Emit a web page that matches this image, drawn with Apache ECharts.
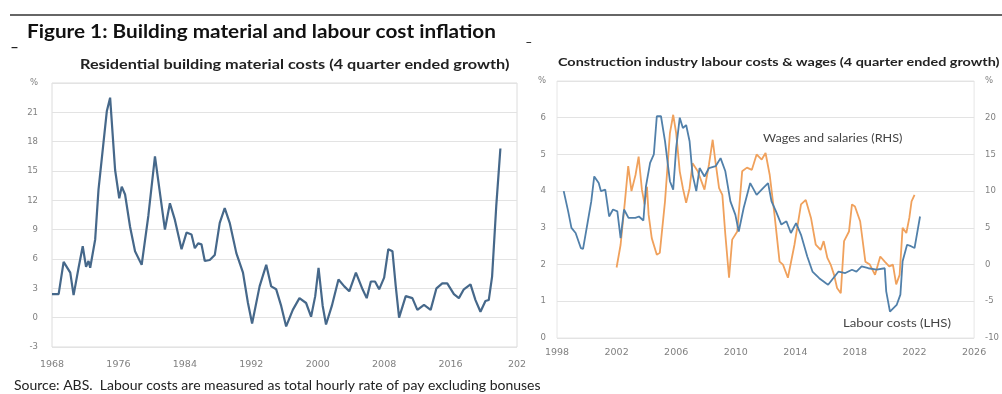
<!DOCTYPE html>
<html><head><meta charset="utf-8">
<script src="https://cdn.jsdelivr.net/npm/echarts@6/dist/echarts.min.js"></script>
<style>html,body{margin:0;padding:0;background:#fff}#c{width:1002px;height:394px}</style>
</head><body><div id="c"></div>
<script>
// Residential building material costs (4 quarter ended growth), %
const materialYears = [1968.0,1968.8,1969.4,1970.2,1970.6,1971.2,1971.7,1972.1,1972.4,1972.6,1973.2,1973.6,1974.2,1974.6,1975.0,1975.6,1976.1,1976.4,1976.8,1977.4,1978.0,1978.8,1979.6,1980.4,1981.6,1982.2,1982.8,1983.6,1984.2,1984.8,1985.2,1985.6,1986.0,1986.4,1987.0,1987.6,1988.2,1988.8,1989.4,1990.2,1991.0,1991.6,1992.1,1993.0,1993.8,1994.4,1995.0,1995.6,1996.2,1997.0,1997.8,1998.6,1999.2,1999.7,2000.1,2000.6,2001.0,2001.7,2002.5,2003.2,2003.8,2004.6,2005.4,2005.9,2006.4,2006.9,2007.4,2008.0,2008.5,2009.0,2009.4,2009.8,2010.6,2011.4,2012.0,2012.8,2013.6,2014.3,2015.0,2015.6,2016.4,2017.0,2017.6,2018.4,2019.0,2019.6,2020.2,2020.6,2021.0,2021.5,2022.0];
const materialValues = [2.4,2.4,5.7,4.6,2.3,5.1,7.3,5.2,5.8,5.1,8.0,13.1,17.9,21.1,22.5,15.1,12.2,13.4,12.6,9.3,6.8,5.4,10.4,16.5,9.0,11.7,10.0,7.0,8.7,8.5,7.1,7.6,7.5,5.8,5.9,6.4,9.7,11.2,9.7,6.6,4.6,1.5,-0.6,3.2,5.4,3.2,2.9,1.2,-0.9,0.8,2.0,1.5,0.1,2.2,5.1,1.2,-0.7,1.2,3.9,3.2,2.7,4.6,2.9,2.0,3.7,3.7,2.9,4.1,7.0,6.8,3.2,0.0,2.2,2.0,0.8,1.3,0.8,3.0,3.5,3.5,2.4,2.0,2.9,3.4,1.8,0.6,1.7,1.8,4.2,11.4,17.3];

// Construction industry labour costs (LHS), %
const labourYears = [1998.45,1998.75,1998.97,1999.25,1999.6,1999.75,2000.07,2000.3,2000.5,2000.8,2000.95,2001.24,2001.5,2001.76,2002.05,2002.27,2002.5,2002.8,2003.26,2003.5,2003.8,2003.97,2004.25,2004.5,2004.7,2004.98,2005.25,2005.58,2005.8,2006.0,2006.24,2006.45,2006.67,2006.9,2007.1,2007.35,2007.57,2007.9,2008.2,2008.65,2008.98,2009.3,2009.64,2009.97,2010.2,2010.53,2010.97,2011.4,2011.85,2012.17,2012.4,2012.7,2013.06,2013.4,2013.7,2014.05,2014.38,2014.8,2015.15,2015.6,2016.03,2016.2,2016.9,2017.35,2017.8,2018.1,2018.45,2018.9,2019.45,2020.0,2020.1,2020.35,2020.8,2021.05,2021.2,2021.5,2021.76,2022.0,2022.37];
const labourValues = [4.0,3.45,3.0,2.86,2.45,2.43,3.18,3.72,4.4,4.22,4.0,4.04,3.31,3.5,3.45,2.72,3.5,3.27,3.27,3.31,3.2,4.13,4.77,5.0,6.04,6.04,5.36,4.27,4.04,5.18,6.0,5.72,5.8,5.36,4.45,4.0,4.63,4.4,4.63,4.68,4.9,4.54,3.72,3.36,2.9,3.54,4.22,3.9,4.09,4.22,3.72,3.45,3.09,3.18,2.86,3.13,2.81,2.22,1.81,1.63,1.5,1.45,1.81,1.77,1.86,1.81,1.95,1.9,1.86,1.9,1.27,0.72,0.9,1.18,2.09,2.54,2.5,2.45,3.31];

// Construction wages and salaries (RHS), %
const wagesYears = [2002.0,2002.27,2002.56,2002.78,2003.0,2003.27,2003.48,2003.7,2003.88,2004.04,2004.15,2004.36,2004.7,2004.9,2005.25,2005.58,2005.8,2006.0,2006.24,2006.45,2006.67,2006.9,2007.1,2007.45,2007.9,2008.2,2008.45,2008.65,2008.88,2009.1,2009.3,2009.55,2009.76,2010.1,2010.43,2010.75,2011.08,2011.4,2011.74,2012.0,2012.28,2012.6,2012.94,2013.17,2013.5,2013.94,2014.38,2014.7,2015.05,2015.37,2015.7,2015.9,2016.15,2016.37,2016.6,2016.8,2017.05,2017.27,2017.6,2017.8,2018.0,2018.35,2018.7,2019.0,2019.35,2019.7,2020.0,2020.3,2020.55,2020.77,2021.0,2021.2,2021.45,2021.65,2021.8,2022.0];
const wagesValues = [-0.4,2.7,8.6,13.4,10.0,12.2,14.7,10.2,8.2,10.6,6.8,3.6,1.35,1.6,8.6,17.9,20.4,17.9,12.7,10.4,8.4,10.4,13.8,12.7,10.2,13.6,17.0,13.8,10.4,9.5,4.1,-1.8,3.4,4.5,12.7,13.2,12.9,15.0,14.3,15.2,12.2,6.8,0.4,0.0,-1.8,2.7,8.2,8.8,6.35,2.7,2.0,3.2,0.9,0.0,-1.4,-3.2,-3.9,3.2,4.5,8.2,7.9,5.9,0.4,0.0,-1.4,1.1,0.4,-0.25,0.0,-2.7,-1.4,5.0,4.3,6.35,8.6,9.5];

const mainTitle = "Figure 1: Building material and labour cost inflation";
const leftTitle = "Residential building material costs (4 quarter ended growth)";
const rightTitle = "Construction industry labour costs & wages (4 quarter ended growth)";
const sourceText = "Source: ABS.  Labour costs are measured as total hourly rate of pay excluding bonuses";
const wagesLabel = "Wages and salaries (RHS)";
const labourLabel = "Labour costs (LHS)";

const FONT = "Lato";
const TICKFONT = "DejaVu Sans";
const zip = (xs, ys) => xs.map((x, i) => [x, ys[i]]);
const yTickLabel = {color: '#808080', fontSize: 8.5, fontFamily: TICKFONT};
const xTickLabel = {color: '#808080', fontSize: 9.5, fontFamily: TICKFONT};
const gridLine = {show: true, lineStyle: {color: '#e3e3e3', width: 1}};

// stretched text helper (the reference text is horizontally widened)
function txt(text, x, cy, size, weight, fill, sx) {
  return {type: 'text', x: x, y: cy, scaleX: sx, scaleY: 1,
    style: {text: text, x: 0, y: 0, fontSize: size, fontWeight: weight, fontFamily: FONT,
            fill: fill, verticalAlign: 'middle', align: 'left'}};
}

const chart = echarts.init(document.getElementById('c'), null, {renderer: 'canvas'});
chart.setOption({
  backgroundColor: '#ffffff',
  animation: false,
  grid: [
    {left: 52, right: 485, top: 83, bottom: 47, show: true, borderColor: '#dcdcdc', borderWidth: 1},
    {left: 557, right: 20, top: 81, bottom: 56, show: true, borderColor: '#e6e6e6', borderWidth: 1}
  ],
  xAxis: [
    {type: 'value', gridIndex: 0, min: 1968, max: 2024, interval: 8,
     axisLine: {show: false}, axisTick: {show: false}, splitLine: {show: false},
     axisLabel: Object.assign({}, xTickLabel, {margin: 13, formatter: v => v === 2024 ? '202' : String(v)})},
    {type: 'value', gridIndex: 1, min: 1998, max: 2026, interval: 4,
     axisLine: {show: false}, axisTick: {show: false}, splitLine: {show: false},
     axisLabel: Object.assign({}, xTickLabel, {margin: 10, formatter: v => String(v)})}
  ],
  yAxis: [
    {type: 'value', gridIndex: 0, min: -3, max: 24, interval: 3,
     axisLine: {show: false}, axisTick: {show: false}, splitLine: gridLine,
     axisLabel: Object.assign({}, yTickLabel, {margin: 14, formatter: v => v === 24 ? '%' : String(v)})},
    {type: 'value', gridIndex: 1, min: 0, max: 7, interval: 1,
     axisLine: {show: false}, axisTick: {show: false}, splitLine: gridLine,
     axisLabel: Object.assign({}, yTickLabel, {margin: 11, formatter: v => v === 7 ? '%' : String(v)})},
    {type: 'value', gridIndex: 1, position: 'right', min: -10, max: 25, interval: 5,
     axisLine: {show: false}, axisTick: {show: false}, splitLine: {show: false},
     axisLabel: Object.assign({}, yTickLabel, {margin: 11, formatter: v => v === 25 ? '%' : String(v)})}
  ],
  series: [
    {name: 'Residential building material costs', type: 'line', xAxisIndex: 0, yAxisIndex: 0,
     data: zip(materialYears, materialValues), symbol: 'none',
     lineStyle: {color: '#46688a', width: 2.2}},
    {name: 'Wages and salaries (RHS)', type: 'line', xAxisIndex: 1, yAxisIndex: 2,
     data: zip(wagesYears, wagesValues), symbol: 'none',
     lineStyle: {color: '#f0a15c', width: 1.8}},
    {name: 'Labour costs (LHS)', type: 'line', xAxisIndex: 1, yAxisIndex: 1,
     data: zip(labourYears, labourValues), symbol: 'none',
     lineStyle: {color: '#5180aa', width: 1.8}}
  ],
  graphic: [
    {type: 'line', shape: {x1: 10, y1: 15, x2: 1002, y2: 15}, style: {stroke: '#666666', lineWidth: 2}},
    txt('_', 11, 41, 15, 'bold', '#222', 1),
    txt(mainTitle, 27, 32, 18.5, 'bold', '#111', 1.12),
    txt('_', 526, 37, 12, 'bold', '#222', 1),
    txt(leftTitle, 80, 65, 12.5, 'bold', '#222', 1.30),
    txt(rightTitle, 558, 62, 12, 'bold', '#222', 1.20),
    txt(wagesLabel, 763, 138, 11, 'normal', '#444', 1.15),
    txt(labourLabel, 843, 323, 11, 'normal', '#444', 1.20),
    txt(sourceText, 14, 385, 14, 'normal', '#222', 1)
  ]
});
</script></body></html>
